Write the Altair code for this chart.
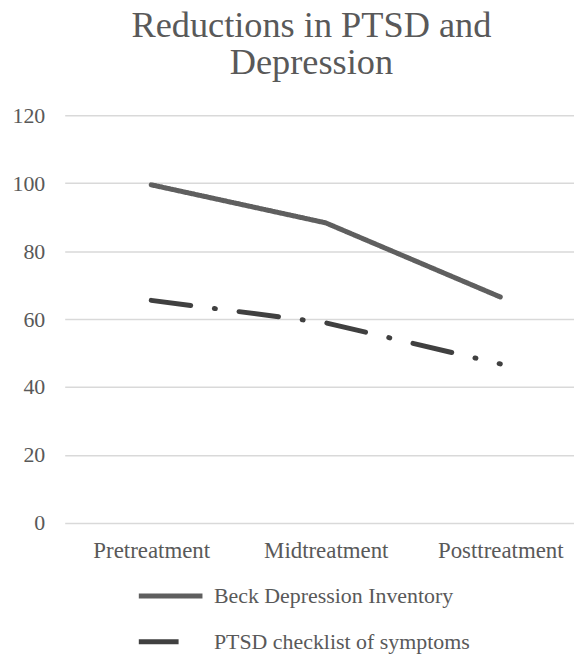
import altair as alt
import pandas as pd

stages = ["Pretreatment", "Midtreatment", "Posttreatment"]
series_names = ["Beck Depression Inventory", "PTSD checklist of symptoms"]
beck = [99.5, 88.3, 66.5]
ptsd = [65.5, 58.9, 46.8]
y_ticks = [0, 20, 40, 60, 80, 100, 120]
line_colors = ["#5f5f5f", "#404040"]

rows = []
for name, vals in zip(series_names, [beck, ptsd]):
    for i, (s, v) in enumerate(zip(stages, vals)):
        rows.append({"stage": s, "value": v, "series": name, "order": i})
df = pd.DataFrame(rows)

FONT = "Liberation Serif"
GREY = "#595959"


def make_legend():
    return alt.Legend(
        title=None, orient="none", legendX=72, legendY=449, direction="vertical",
        symbolType="stroke", symbolSize=4096, symbolStrokeWidth=5,
        labelFontSize=22, labelFont=FONT, labelColor=GREY, labelOffset=9,
        labelLimit=400, rowPadding=0,
    )


chart = (
    alt.Chart(df)
    .mark_line(strokeWidth=5, strokeCap="round", strokeJoin="round")
    .encode(
        x=alt.X(
            "stage:N",
            sort=stages,
            scale=alt.Scale(type="point", padding=0.459, align=0.54),
            axis=alt.Axis(title=None, labelAngle=0, labelPadding=17, domain=False, ticks=False, grid=False,
                          labelFontSize=23),
        ),
        y=alt.Y(
            "value:Q",
            scale=alt.Scale(domain=[0, 120], nice=False),
            axis=alt.Axis(title=None, values=y_ticks, labelPadding=20, domain=False, ticks=False,
                          gridColor="#d9d9d9", gridWidth=1.5, labelFontSize=22),
        ),
        color=alt.Color(
            "series:N",
            scale=alt.Scale(domain=series_names, range=line_colors),
            legend=make_legend(),
        ),
        strokeDash=alt.StrokeDash(
            "series:N",
            scale=alt.Scale(domain=series_names, range=[[1, 0], [40, 24, 1, 24]]),
            legend=make_legend(),
        ),
        order="order:Q",
    )
    .properties(
        width=512,
        height=410,
        autosize=alt.AutoSizeParams(type="none"),
        padding={"left": 57, "top": 106, "right": 0, "bottom": 130},
        title=alt.TitleParams(
            text=["Reductions in PTSD and", "Depression"],
            fontSize=36.5, font=FONT, fontWeight="normal", color=GREY,
            anchor="middle", dx=-8, lineHeight=37, offset=23,
        ),
    )
    .configure_axis(labelFont=FONT, labelColor=GREY)
    .configure_view(stroke=None)
)

chart.save("out.html", embed_options={"renderer": "svg", "actions": False})
